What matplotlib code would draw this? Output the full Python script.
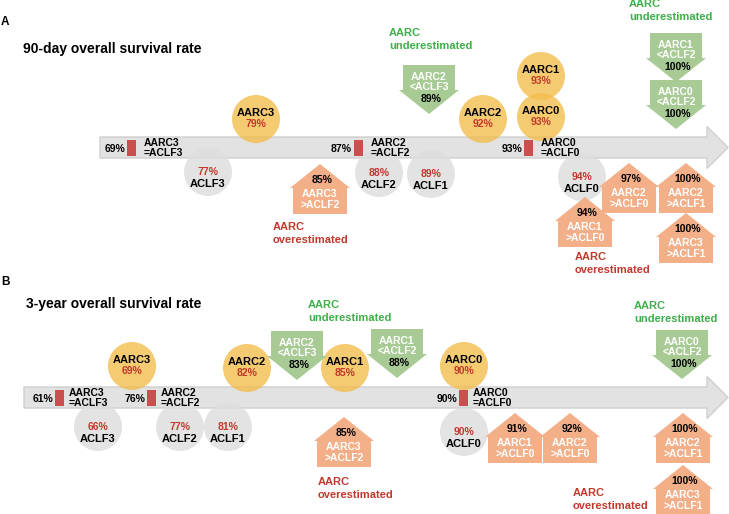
import matplotlib.pyplot as plt
from matplotlib.patches import Circle, Polygon, Rectangle

plt.rcParams['font.family'] = ['Liberation Sans', 'DejaVu Sans']
plt.rcParams['font.weight'] = 'bold'

# ---------------- data: panel A (90-day) ----------------
a_title = "90-day overall survival rate"
a_circle_names = ["AARC3", "ACLF3", "ACLF2", "ACLF1", "AARC2", "AARC1", "AARC0", "ACLF0"]
a_circle_values = [79, 77, 88, 89, 92, 93, 93, 94]
a_equal_labels = ["AARC3\n=ACLF3", "AARC2\n=ACLF2", "AARC0\n=ACLF0"]
a_equal_values = [69, 87, 93]
a_under_names = ["AARC2", "AARC1", "AARC0"]
a_under_refs = ["<ACLF3", "<ACLF2", "<ACLF2"]
a_under_values = [89, 100, 100]
a_over_names = ["AARC3", "AARC1", "AARC2", "AARC2", "AARC3"]
a_over_refs = [">ACLF2", ">ACLF0", ">ACLF0", ">ACLF1", ">ACLF1"]
a_over_values = [85, 94, 97, 100, 100]

# ---------------- data: panel B (3-year) ----------------
b_title = "3-year overall survival rate"
b_circle_names = ["AARC3", "ACLF3", "ACLF2", "ACLF1", "AARC2", "AARC1", "AARC0", "ACLF0"]
b_circle_values = [69, 66, 77, 81, 82, 85, 90, 90]
b_equal_labels = ["AARC3\n=ACLF3", "AARC2\n=ACLF2", "AARC0\n=ACLF0"]
b_equal_values = [61, 76, 90]
b_under_names = ["AARC2", "AARC1", "AARC0"]
b_under_refs = ["<ACLF3", "<ACLF2", "<ACLF2"]
b_under_values = [83, 88, 100]
b_over_names = ["AARC3", "AARC1", "AARC2", "AARC2", "AARC3"]
b_over_refs = [">ACLF2", ">ACLF0", ">ACLF0", ">ACLF1", ">ACLF1"]
b_over_values = [85, 91, 92, 100, 100]

# ---------------- layout (pixel coords, y down) ----------------
a_circle_xy = [(256, 119), (208, 172), (379, 173), (431, 174), (483, 119), (541, 76), (541, 117), (582, 177)]
a_equal_x = [127, 354, 524]
a_under_xy = [(429, 65), (676, 33), (676, 80)]
a_over_xy = [(320, 164), (585, 197), (629, 163), (686, 163), (686, 213)]
a_under_text = [(389, 33), (629, 4)]
a_over_text = [(273, 227), (575, 257)]

b_circle_xy = [(132, 366), (98, 427), (180, 427), (228, 427), (247, 368), (345, 368), (464, 366), (464, 432)]
b_equal_x = [55, 147, 459]
b_under_xy = [(297, 331), (397, 329), (682, 330)]
b_over_xy = [(344, 417), (515, 413), (570, 413), (683, 413), (683, 465)]
b_under_text = [(308, 305), (634, 306)]
b_over_text = [(318, 482), (573, 493)]

YELLOW = '#F3BE4F'
GREY = '#DEDEDE'
GREEN = '#A3C98F'
ORANGE = '#F3AF88'
RED = '#C9504F'
RED_TXT = '#C0392B'
GREEN_TXT = '#3DAE49'

fig = plt.figure(figsize=(7.29, 5.14), dpi=100)
ax = fig.add_axes([0, 0, 1, 1])
ax.set_xlim(0, 729)
ax.set_ylim(514, 0)
ax.axis('off')


def txt(x, y, s, size=8, color='black', ha='center'):
    ax.text(x, y, s, fontsize=size, color=color, ha=ha, va='center', fontweight='bold', zorder=10)


def draw_panel(letter, letter_y, title, title_x, title_y, bar_x0, bar_yc,
               names, values, circle_xy,
               eq_labels, eq_values, eq_x, label_dx,
               u_names, u_refs, u_values, u_xy,
               o_names, o_refs, o_values, o_xy,
               u_text, o_text):
    txt(1, letter_y, letter, size=8.5, ha='left')
    txt(title_x, title_y, title, size=10, ha='left')

    # timeline arrow
    h = 10.5
    pts = [(bar_x0, bar_yc - h), (707, bar_yc - h), (707, bar_yc - 21), (728, bar_yc),
           (707, bar_yc + 21), (707, bar_yc + h), (bar_x0, bar_yc + h)]
    ax.add_patch(Polygon(pts, closed=True, fc='#E2E2E2', ec='#CFCFCF', lw=1, zorder=1))

    # circles
    for name, val, (cx, cy) in zip(names, values, circle_xy):
        if name.startswith('AARC'):
            ax.add_patch(Circle((cx, cy), 24, fc=YELLOW, ec='none', alpha=0.8, zorder=2))
            txt(cx, cy - 6, name, size=8)
            txt(cx, cy + 5, f"{val}%", size=7.5, color=RED_TXT)
        else:
            ax.add_patch(Circle((cx, cy), 24, fc=GREY, ec='none', alpha=0.85, zorder=2))
            txt(cx, cy, f"{val}%", size=7.5, color=RED_TXT)
            txt(cx, cy + 12, name, size=8)

    # equal markers
    for lab, val, rx in zip(eq_labels, eq_values, eq_x):
        ax.add_patch(Rectangle((rx, bar_yc - 8), 9, 16, fc=RED, ec='none', zorder=4))
        txt(rx - 2, bar_yc + 1, f"{val}%", size=7.5, ha='right')
        l1, l2 = lab.split('\n')
        txt(rx + label_dx, bar_yc - 4.5, l1, size=7.5, ha='left')
        txt(rx + label_dx, bar_yc + 5.5, l2, size=7.5, ha='left')

    # underestimated (green down arrows)
    for name, ref, val, (cx, top) in zip(u_names, u_refs, u_values, u_xy):
        pts = [(cx - 26, top), (cx + 26, top), (cx + 26, top + 25), (cx + 30, top + 25),
               (cx, top + 49), (cx - 30, top + 25), (cx - 26, top + 25)]
        ax.add_patch(Polygon(pts, closed=True, fc=GREEN, ec='none', alpha=0.95, zorder=5))
        txt(cx, top + 12, name, size=7.5, color='white')
        txt(cx, top + 22, ref, size=7.5, color='white')
        txt(cx + 2, top + 34, f"{val}%", size=7.5)

    # overestimated (orange houses)
    for name, ref, val, (cx, peak) in zip(o_names, o_refs, o_values, o_xy):
        pts = [(cx, peak), (cx + 30, peak + 24), (cx + 27, peak + 24), (cx + 27, peak + 50),
               (cx - 27, peak + 50), (cx - 27, peak + 24), (cx - 30, peak + 24)]
        ax.add_patch(Polygon(pts, closed=True, fc=ORANGE, ec='none', zorder=5))
        txt(cx + 2, peak + 16, f"{val}%", size=7.5)
        txt(cx, peak + 30, name, size=7.5, color='white')
        txt(cx, peak + 41, ref, size=7.5, color='white')

    for x, y in u_text:
        txt(x, y, "AARC", size=8, color=GREEN_TXT, ha='left')
        txt(x, y + 13, "underestimated", size=8, color=GREEN_TXT, ha='left')
    for x, y in o_text:
        txt(x, y, "AARC", size=8, color=RED_TXT, ha='left')
        txt(x, y + 13, "overestimated", size=8, color=RED_TXT, ha='left')


draw_panel('A', 22, a_title, 23, 49, 100, 147.5,
           a_circle_names, a_circle_values, a_circle_xy,
           a_equal_labels, a_equal_values, a_equal_x, 17,
           a_under_names, a_under_refs, a_under_values, a_under_xy,
           a_over_names, a_over_refs, a_over_values, a_over_xy,
           a_under_text, a_over_text)

draw_panel('B', 282, b_title, 26, 304, 24, 397.5,
           b_circle_names, b_circle_values, b_circle_xy,
           b_equal_labels, b_equal_values, b_equal_x, 14,
           b_under_names, b_under_refs, b_under_values, b_under_xy,
           b_over_names, b_over_refs, b_over_values, b_over_xy,
           b_under_text, b_over_text)

fig.savefig('out.png', dpi=100)
